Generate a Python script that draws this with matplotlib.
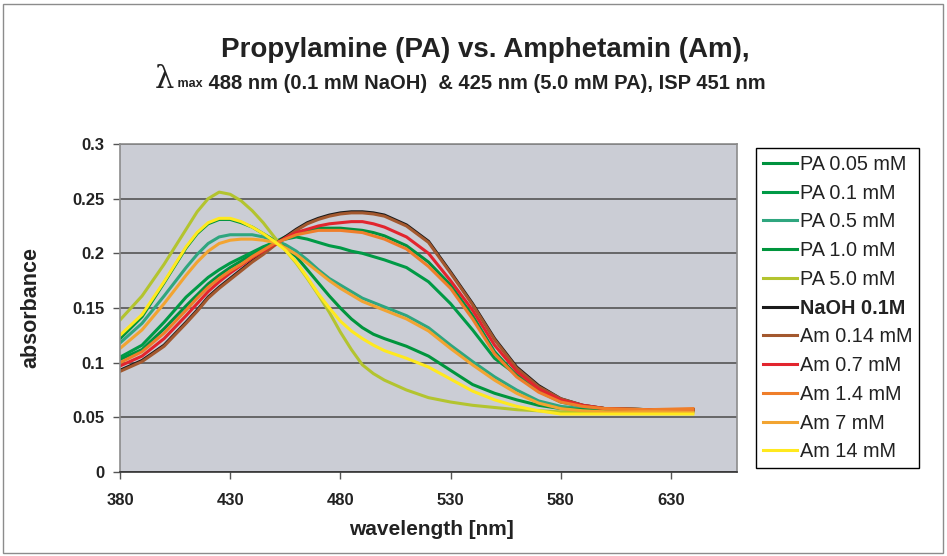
import matplotlib
matplotlib.use("Agg")
import matplotlib.pyplot as plt
from matplotlib.patches import Rectangle

plt.rcParams['font.family'] = ['Liberation Sans', 'DejaVu Sans']

# wavelength grid (nm)
wavelength = [380, 390, 400, 410, 415, 420, 425, 430, 435, 440, 445, 450, 455, 460, 465, 470, 475,
              480, 485, 490, 495, 500, 510, 520, 530, 540, 550, 560, 570, 580, 590, 600, 620, 640]

pa_005 = [0.103, 0.112, 0.131, 0.152, 0.162, 0.172, 0.180, 0.187, 0.193, 0.199, 0.205, 0.210, 0.215,
          0.219, 0.221, 0.223, 0.223, 0.223, 0.222, 0.221, 0.219, 0.216, 0.207, 0.192, 0.171, 0.143,
          0.110, 0.088, 0.074, 0.065, 0.060, 0.058, 0.057, 0.057]
pa_01 = [0.105, 0.116, 0.137, 0.160, 0.169, 0.178, 0.185, 0.191, 0.196, 0.201, 0.206, 0.210, 0.213,
         0.215, 0.213, 0.210, 0.207, 0.205, 0.202, 0.200, 0.197, 0.194, 0.187, 0.174, 0.154, 0.130,
         0.104, 0.089, 0.074, 0.064, 0.060, 0.058, 0.057, 0.057]
pa_05 = [0.118, 0.136, 0.161, 0.187, 0.199, 0.209, 0.215, 0.217, 0.217, 0.217, 0.215, 0.212, 0.208,
         0.202, 0.194, 0.185, 0.177, 0.171, 0.165, 0.159, 0.155, 0.151, 0.143, 0.132, 0.116, 0.101,
         0.087, 0.075, 0.065, 0.060, 0.058, 0.057, 0.057, 0.057]
pa_10 = [0.122, 0.142, 0.173, 0.205, 0.218, 0.227, 0.231, 0.231, 0.228, 0.224, 0.218, 0.212, 0.205,
         0.197, 0.185, 0.173, 0.161, 0.150, 0.140, 0.132, 0.126, 0.122, 0.115, 0.106, 0.093, 0.080,
         0.072, 0.066, 0.061, 0.058, 0.057, 0.056, 0.056, 0.056]
pa_50 = [0.139, 0.161, 0.190, 0.222, 0.238, 0.250, 0.256, 0.254, 0.248, 0.239, 0.228, 0.215, 0.203,
         0.191, 0.177, 0.162, 0.146, 0.128, 0.112, 0.098, 0.090, 0.084, 0.075, 0.068, 0.064, 0.061,
         0.059, 0.057, 0.056, 0.055, 0.055, 0.055, 0.055, 0.055]
naoh = [0.093, 0.102, 0.116, 0.137, 0.148, 0.160, 0.169, 0.177, 0.185, 0.193, 0.200, 0.208, 0.215,
        0.222, 0.228, 0.232, 0.235, 0.237, 0.238, 0.238, 0.237, 0.235, 0.226, 0.211, 0.183, 0.154,
        0.122, 0.096, 0.079, 0.067, 0.061, 0.058, 0.057, 0.057]
am_014 = [0.092, 0.101, 0.115, 0.136, 0.147, 0.159, 0.168, 0.176, 0.184, 0.192, 0.199, 0.207, 0.214,
          0.221, 0.227, 0.231, 0.234, 0.236, 0.237, 0.237, 0.236, 0.234, 0.225, 0.210, 0.182, 0.153,
          0.121, 0.095, 0.078, 0.067, 0.061, 0.058, 0.057, 0.057]
am_07 = [0.097, 0.106, 0.122, 0.143, 0.154, 0.165, 0.174, 0.182, 0.189, 0.196, 0.202, 0.208, 0.214,
         0.219, 0.222, 0.225, 0.227, 0.228, 0.229, 0.229, 0.227, 0.224, 0.215, 0.200, 0.175, 0.148,
         0.116, 0.092, 0.076, 0.066, 0.061, 0.058, 0.057, 0.057]
am_14 = [0.100, 0.110, 0.127, 0.148, 0.159, 0.169, 0.177, 0.184, 0.190, 0.197, 0.203, 0.209, 0.213,
         0.217, 0.219, 0.221, 0.221, 0.221, 0.220, 0.219, 0.216, 0.213, 0.204, 0.188, 0.168, 0.140,
         0.108, 0.087, 0.073, 0.064, 0.060, 0.058, 0.057, 0.058]
am_7 = [0.113, 0.130, 0.154, 0.180, 0.192, 0.202, 0.209, 0.212, 0.213, 0.213, 0.212, 0.210, 0.205,
        0.199, 0.191, 0.183, 0.175, 0.168, 0.162, 0.156, 0.152, 0.148, 0.140, 0.129, 0.113, 0.098,
        0.084, 0.072, 0.063, 0.058, 0.056, 0.055, 0.055, 0.055]
am_140 = [0.125, 0.144, 0.174, 0.206, 0.219, 0.228, 0.232, 0.232, 0.229, 0.224, 0.218, 0.211, 0.203,
          0.192, 0.178, 0.163, 0.150, 0.138, 0.129, 0.122, 0.116, 0.111, 0.104, 0.096, 0.085, 0.074,
          0.066, 0.060, 0.056, 0.053, 0.053, 0.053, 0.053, 0.053]

series = [
    ("PA 0.05 mM", pa_005, "#00923F"),
    ("PA 0.1 mM", pa_01, "#009A46"),
    ("PA 0.5 mM", pa_05, "#2FA67F"),
    ("PA 1.0 mM", pa_10, "#00953D"),
    ("PA 5.0 mM", pa_50, "#B3C42F"),
    ("NaOH 0.1M", naoh, "#1A1A1A"),
    ("Am 0.14 mM", am_014, "#A3582E"),
    ("Am 0.7 mM", am_07, "#E2252E"),
    ("Am 1.4 mM", am_14, "#EF7E2A"),
    ("Am 7 mM", am_7, "#F2A431"),
    ("Am 14 mM", am_140, "#FFE91E"),
]

x_ticks = [380, 430, 480, 530, 580, 630]
y_ticks = [0, 0.05, 0.1, 0.15, 0.2, 0.25, 0.3]
y_tick_labels = ["0", "0.05", "0.1", "0.15", "0.2", "0.25", "0.3"]

fig = plt.figure(figsize=(9.47, 5.56), dpi=100)
fig.patch.set_facecolor("white")
fig.patches.append(Rectangle((3 / 947, 3 / 556), 940 / 947, 549 / 556, transform=fig.transFigure,
                             fill=False, edgecolor="#8c8c8c", linewidth=1))

ax = fig.add_axes([120 / 947, 84 / 556, 617 / 947, 328 / 556])
ax.set_facecolor("#CBCDD5")

for label, values, color in series:
    ax.plot(wavelength, values, color=color, linewidth=2.2, label=label)

ax.set_xlim(380, 660)
ax.set_ylim(0, 0.3)
ax.set_xticks(x_ticks)
ax.set_yticks(y_ticks)
ax.set_yticklabels(y_tick_labels)
ax.yaxis.grid(True, color="#4a4a4a", linewidth=1.1)
ax.set_axisbelow(True)

for side in ["top", "right", "left"]:
    ax.spines[side].set_color("#8c8c8c")
    ax.spines[side].set_linewidth(1.2)
ax.spines["bottom"].set_color("#333333")
ax.spines["bottom"].set_linewidth(1.2)

ax.tick_params(axis="both", direction="out", length=5, width=1, color="#555555", labelsize=12)
ax.tick_params(axis="x", pad=10)
ax.tick_params(axis="y", pad=6)
for lbl in ax.get_xticklabels() + ax.get_yticklabels():
    lbl.set_fontweight("bold")
    lbl.set_color("#222222")

ax.set_xlabel("wavelength [nm]", fontsize=15, fontweight="bold", color="#222222")
ax.set_ylabel("absorbance", fontsize=15.5, fontweight="bold", color="#222222")
ax.xaxis.set_label_coords(0.505, -0.145)
ax.yaxis.set_label_coords(-0.128, 0.5)

# title, two lines
fig.text(485 / 947, 1 - 50 / 556, "Propylamine (PA) vs. Amphetamin (Am),", ha="center", va="center",
         fontsize=20, fontweight="bold", color="#222222")
lam = fig.text(155 / 947, 1 - 80 / 556, "\u03bb", ha="left", va="center", fontsize=22,
               family="DejaVu Serif", color="#222222")
sub = ax.annotate(" max", xy=(1, 0.18), xycoords=lam, xytext=(0, 0), textcoords="offset points",
                  ha="left", va="bottom", fontsize=9, fontweight="bold", color="#222222",
                  annotation_clip=False)
ax.annotate(" 488 nm (0.1 mM NaOH)  & 425 nm (5.0 mM PA), ISP 451 nm", xy=(1, 0.55), xycoords=sub,
            xytext=(0, 0), textcoords="offset points", ha="left", va="center",
            fontsize=14.5, fontweight="bold", color="#222222", annotation_clip=False)

leg = ax.legend(loc="upper left", bbox_to_anchor=(756 / 947, 1 - 148 / 556),
                bbox_transform=fig.transFigure, fontsize=14.3, frameon=True, fancybox=False,
                edgecolor="black", framealpha=1, handlelength=1.7, handletextpad=0.15,
                labelspacing=0.49, borderpad=0.35, borderaxespad=0)
leg.get_frame().set_linewidth(1)
for line in leg.get_lines():
    line.set_linewidth(2.2)
for text in leg.get_texts():
    text.set_color("#222222")
    if text.get_text().startswith("NaOH"):
        text.set_fontweight("bold")

fig.savefig("out.png", dpi=100)
